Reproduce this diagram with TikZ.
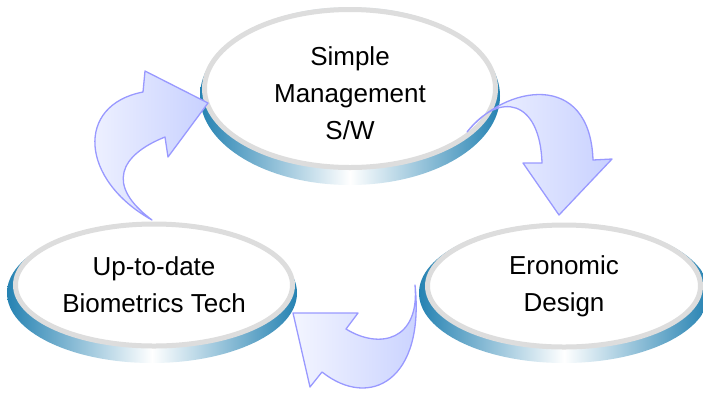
\documentclass[tikz,border=0pt]{standalone}
\usepackage{fontspec}
\setmainfont{Liberation Sans}
\usetikzlibrary{shapes.geometric}
\definecolor{rimblue}{HTML}{2582B2}
\definecolor{ringgray}{HTML}{DDDDDD}
\definecolor{arrowline}{HTML}{9999FF}
\definecolor{arrowlight}{HTML}{F3F5FF}
\definecolor{arrowdark}{HTML}{C8D1FF}

\begin{document}
\begin{tikzpicture}[x=1pt,y=-1pt,
  rim/.style={ellipse,inner sep=0pt,minimum width=290pt,minimum height=140pt,
    left color=rimblue,right color=rimblue,middle color=white},
  disc/.style={ellipse,draw=ringgray,line width=5pt,fill=white,inner sep=0pt,
    minimum width=277pt,minimum height=122pt},
  caption/.style={align=center,font=\fontsize{26}{37}\selectfont},
  bend arrow/.style={draw=arrowline,line width=1.3pt,line join=round,
    left color=arrowlight,right color=arrowdark}]
   \useasboundingbox (0,0) rectangle (703,392);
   % rims
   \node[rim,minimum width=300pt,minimum height=178pt] (swRim) at (350,96) {};
   \node[rim] (bioRim) at (152,293) {};
   \node[rim] (ergoRim) at (564,293) {};
   % discs
   \node[disc,minimum width=291pt,minimum height=158pt] (sw) at (350,88.5) {};
   \node[disc] (bio) at (154,285) {};
   \node[disc,minimum width=273pt] (ergo) at (564,286) {};
   % texts
   \node[caption] (swText) at ([yshift=-5pt]sw.center) {Simple\\Management\\S/W};
   \node[caption] (bioText) at (bio) {Up-to-date\\Biometrics Tech};
   \node[caption] (ergoText) at (ergo) {Eronomic\\Design};
   % arrow ends
   \coordinate (upTail) at (152,220);
   \coordinate (upTip) at (208,103);
   \coordinate (downTail) at (467,132);
   \coordinate (downTip) at (559,215);
   \coordinate (backTail) at (415,285);
   \coordinate (backTip) at (293,313);
   % arrows
   \path[bend arrow] (upTail) .. controls (80,180) and (75,105) .. (143,92)
      -- (145,71) -- (upTip) -- (168,157) -- (165,137)
      .. controls (120,155) and (105,185) .. (upTail) -- cycle;
   \path[bend arrow] (downTail) .. controls (505,85) and (590,70) .. (593,160)
      -- (612,159) -- (downTip) -- (523,163) -- (542,163)
      .. controls (540,100) and (500,90) .. (downTail) -- cycle;
   \path[bend arrow] (backTail) .. controls (425,380) and (370,410) .. (322,372)
      -- (310,387) -- (backTip) -- (358,313) -- (346,329)
      .. controls (380,350) and (420,340) .. (backTail) -- cycle;
\end{tikzpicture}
\end{document}
